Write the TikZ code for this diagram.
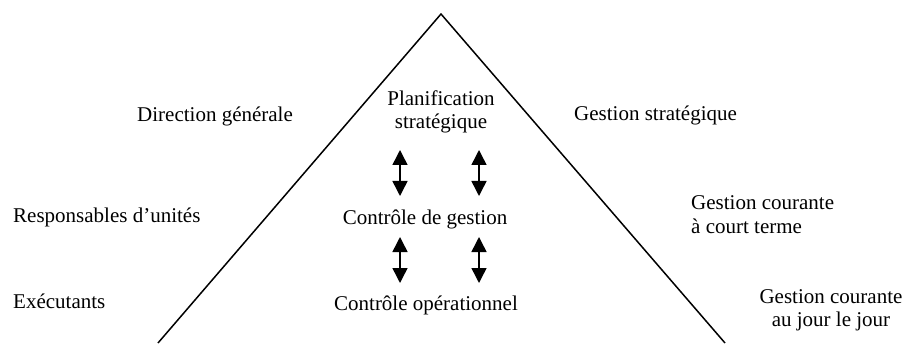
\documentclass[tikz,border=0pt]{standalone}
\usepackage{fontspec}
\setmainfont{Liberation Serif}
\usetikzlibrary{arrows.meta}
\begin{document}
\begin{tikzpicture}[x=1pt, y=1pt, font=\fontsize{21}{23}\selectfont, line join=round, >={Triangle[width=15pt,length=15pt]}]
    \useasboundingbox (0,0) rectangle (907,343);
    \tikzset{lbl/.style={inner sep=0pt}, fleche/.style={<->, line width=1.5pt}}
    % pyramide
    \coordinate (sommet) at (441,329);
    \coordinate (baseG) at (158,0);
    \coordinate (baseD) at (725,0);
    \draw[line width=1.5pt] (baseG)--(sommet)--(baseD);
    % niveaux au centre
    \node[lbl, align=center, anchor=base] (plan) at (441,214) {Planification\\stratégique};
    \node[lbl, anchor=base] (ctrlG) at (425,118) {Contrôle de gestion};
    \node[lbl, anchor=base] (ctrlO) at (426,33) {Contrôle opérationnel};
    % acteurs a gauche
    \node[lbl, anchor=base west] (dirG) at (137,221) {Direction générale};
    \node[lbl, anchor=base west] (resp) at (13,121) {Responsables d’unités};
    \node[lbl, anchor=base west] (exec) at (13,35) {Exécutants};
    % horizons a droite
    \node[lbl, anchor=base west] (gStrat) at (574,222) {Gestion stratégique};
    \node[lbl, align=left, anchor=base west] (gCourt) at (691,110) {Gestion courante\\à court terme};
    \node[lbl, align=center, anchor=base] (gJour) at (831,17) {Gestion courante\\au jour le jour};
    % fleches entre niveaux
    \foreach \x/\n in {400/a,479/b} {
        \coordinate (h\n) at (\x,193);
        \coordinate (m\n) at (\x,147);
        \coordinate (k\n) at (\x,106);
        \coordinate (l\n) at (\x,60);
        \draw[fleche] (h\n)--(m\n);
        \draw[fleche] (k\n)--(l\n);
    }
\end{tikzpicture}
\end{document}
